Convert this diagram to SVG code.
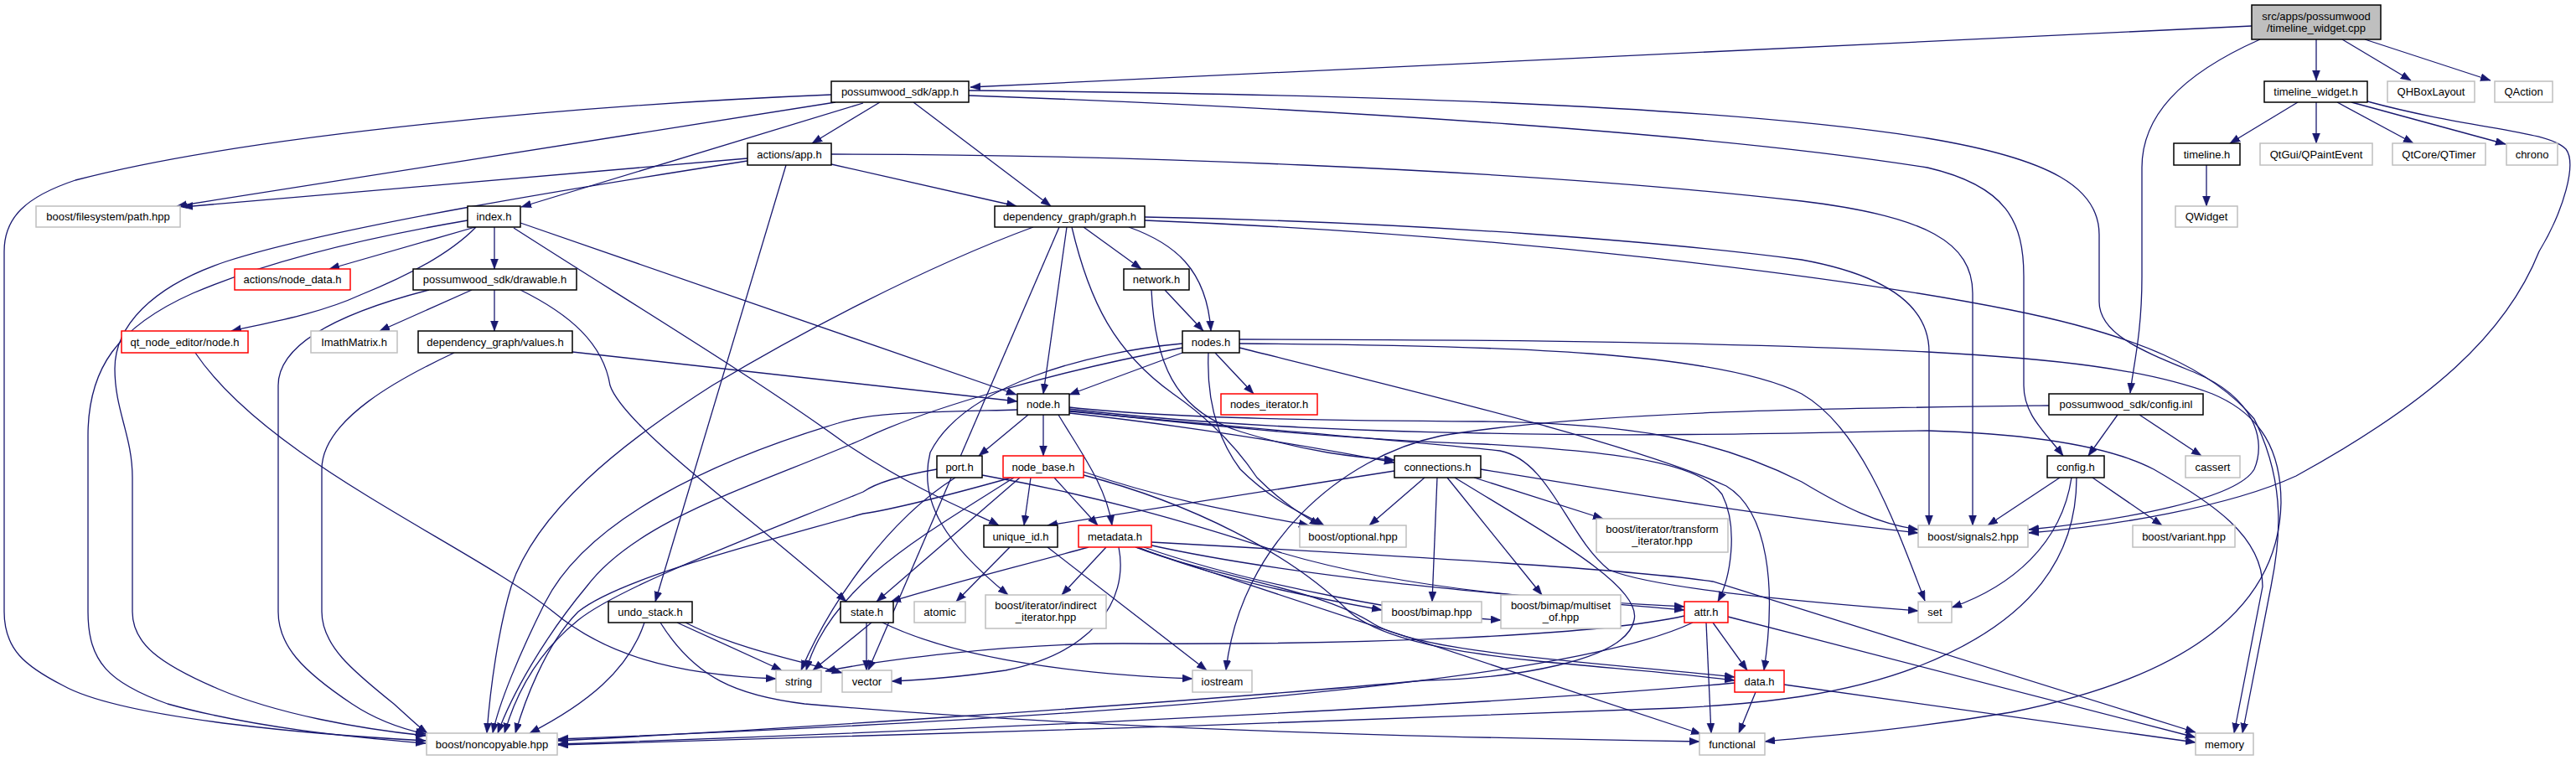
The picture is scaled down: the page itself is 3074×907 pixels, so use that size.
<svg xmlns="http://www.w3.org/2000/svg" width="3074" height="907" viewBox="0 0 3074 907">
<style>
text{font-family:"Liberation Sans",Arial,Helvetica,sans-serif;font-size:13px;text-anchor:middle;fill:#000}
.doc rect{fill:#fff;stroke:#000;stroke-width:1.5}
.ext rect{fill:#fff;stroke:#bfbfbf;stroke-width:1.5}
.red rect{fill:#fff;stroke:#ff0000;stroke-width:1.5}
.main rect{fill:#bfbfbf;stroke:#000;stroke-width:1.5}
#edges path{fill:none;stroke:#191970;stroke-width:1.3;marker-end:url(#arr)}
</style>
<defs>
<marker id="arr" markerUnits="userSpaceOnUse" markerWidth="13" markerHeight="10" refX="12" refY="4.5" orient="auto">
<path d="M0,0 L12,4.5 L0,9 z" fill="#191970" stroke="#191970" stroke-width="0.5"/>
</marker>
</defs>
<rect width="3074" height="907" fill="#fff"/>
<g id="edges">
<path d="M2687,31 L1158,104"/>
<path d="M2697,47 C2600,90 2556,140 2556,200 L2556,330 C2556,400 2545,440 2542,469"/>
<path d="M2764,47 L2764,96"/>
<path d="M2795,47 L2877,96"/>
<path d="M2822,47 L2972,96"/>
<path d="M2742,122 L2661,171"/>
<path d="M2764,122 L2764,171"/>
<path d="M2789,122 L2880,171"/>
<path d="M2806,122 L2990,172"/>
<path d="M2825,121 C2950,155 3040,155 3062,178 C3075,195 3060,250 3030,300 C2990,400 2900,480 2740,568 C2660,605 2520,628 2421,636"/>
<path d="M2633,197 L2633,246"/>
<path d="M992,113 C700,125 300,160 90,215 C30,235 5,260 5,300 L5,730 C5,775 30,795 75,818 C150,860 400,878 508,884"/>
<path d="M997,122 L211,246"/>
<path d="M1030,123 L622,247"/>
<path d="M1050,122 L969,171"/>
<path d="M1090,122 L1254,246"/>
<path d="M1156,108 C1600,112 2050,125 2300,165 C2450,190 2505,225 2505,280 L2505,360 C2505,400 2560,420 2620,445 C2690,475 2705,525 2690,560 C2670,595 2540,620 2421,632"/>
<path d="M1156,114 C1600,130 2050,160 2300,200 C2395,222 2415,265 2415,330 L2415,460 C2415,495 2440,515 2462,544"/>
<path d="M892,189 L218,247"/>
<path d="M892,192 C700,222 400,270 270,312 C180,342 137,390 137,440 C137,490 158,520 158,570 L158,730 C158,768 190,792 260,822 C330,852 430,870 508,878"/>
<path d="M992,196 L1213,246"/>
<path d="M938,197 L782,718"/>
<path d="M992,184 C1300,184 1800,200 2150,240 C2300,258 2354,290 2354,350 L2354,627"/>
<path d="M558,263 C400,290 300,320 230,350 C140,390 105,440 105,520 L105,730 C105,790 130,815 200,840 C300,868 420,880 508,887"/>
<path d="M567,271 L393,321"/>
<path d="M590,271 L590,321"/>
<path d="M568,271 C530,310 460,340 430,352 C380,375 320,385 276,395"/>
<path d="M621,266 L1213,471"/>
<path d="M613,272 C750,360 900,450 1010,530 C1100,590 1170,615 1192,627"/>
<path d="M512,346 C380,380 332,420 332,460 L332,730 C332,770 360,800 420,840 C450,860 480,870 508,876"/>
<path d="M563,346 L453,395"/>
<path d="M590,346 L590,395"/>
<path d="M621,346 C680,375 720,410 728,460 C745,510 900,620 1010,718"/>
<path d="M542,421 C480,450 384,500 384,560 L384,730 C384,770 420,800 470,840 C490,858 500,868 510,875"/>
<path d="M683,420 L1214,479"/>
<path d="M233,421 C320,550 560,650 660,730 C720,780 800,805 926,810"/>
<path d="M1233,271 C1100,320 950,400 850,460 C740,530 640,610 610,700 C595,750 585,820 581,875"/>
<path d="M1273,271 L1245,470"/>
<path d="M1264,271 L1036,800"/>
<path d="M1293,271 L1362,321"/>
<path d="M1347,271 C1400,290 1440,320 1445,395"/>
<path d="M1279,271 C1300,360 1330,420 1400,470 C1450,505 1480,540 1500,570 C1530,600 1555,615 1575,627"/>
<path d="M1366,259 C1700,265 2000,290 2150,310 C2260,330 2302,370 2302,420 L2302,627"/>
<path d="M1366,263 C1800,280 2200,330 2400,370 C2550,400 2640,440 2690,500 C2730,580 2720,650 2710,700 L2676,875"/>
<path d="M1390,346 L1436,395"/>
<path d="M1374,346 C1378,430 1400,490 1480,515 C1560,540 1620,546 1664,549"/>
<path d="M1411,421 L1276,471"/>
<path d="M1450,421 L1496,470"/>
<path d="M1411,415 C1250,445 1100,490 1030,524 C900,580 760,620 700,700 C650,760 610,830 594,875"/>
<path d="M1411,410 C1300,420 1150,460 1110,540 C1095,600 1130,650 1203,710"/>
<path d="M1442,421 C1440,470 1450,520 1480,560 C1520,600 1560,615 1580,627"/>
<path d="M1479,410 C1800,412 2050,420 2150,470 C2220,510 2260,620 2297,717"/>
<path d="M1479,405 C1800,405 2100,410 2300,420 C2450,428 2560,440 2640,470 C2700,495 2722,540 2722,600 C2720,700 2650,800 2400,850 C2250,875 2150,880 2106,885"/>
<path d="M1479,415 C1700,470 1950,530 2060,580 C2110,610 2120,700 2105,800"/>
<path d="M1227,495 L1168,544"/>
<path d="M1245,495 L1245,544"/>
<path d="M1263,495 C1290,540 1320,580 1327,627"/>
<path d="M1214,489 C1100,492 1040,492 1000,505 C850,550 700,620 650,720 C620,780 595,840 588,875"/>
<path d="M1276,486 C1400,500 1600,502 1770,503 C1950,505 2050,525 2150,575 C2200,605 2240,625 2289,632"/>
<path d="M1276,488 C1420,505 1600,514 1770,517 C2000,522 2200,515 2300,514 C2430,518 2520,534 2570,560 C2640,600 2700,640 2700,700 L2666,875"/>
<path d="M1276,490 C1440,508 1600,524 1770,530 C1950,540 2030,555 2055,590 C2075,630 2065,690 2050,718"/>
<path d="M1276,491 C1500,512 1700,528 1790,538 C1850,550 1870,640 1920,680 C1980,705 2200,722 2289,729"/>
<path d="M1276,493 C1400,506 1550,530 1664,552"/>
<path d="M1118,560 C1060,570 1040,580 1030,587 C900,640 740,700 690,740 C640,780 615,830 602,875"/>
<path d="M1140,570 C1060,620 990,720 956,800"/>
<path d="M1172,567 C1300,590 1410,620 1530,660 C1700,710 1900,718 2010,724"/>
<path d="M1230,570 L1222,627"/>
<path d="M1258,570 L1310,627"/>
<path d="M1217,570 L1046,718"/>
<path d="M1293,563 C1400,600 1500,615 1562,627"/>
<path d="M1210,570 C1100,640 990,700 962,800"/>
<path d="M1207,570 C1100,600 1050,610 1030,613 C900,650 740,690 690,730 C650,770 625,840 615,875"/>
<path d="M1293,567 C1420,600 1540,660 1610,730 C1680,790 1900,790 2070,812"/>
<path d="M1664,562 L1250,627"/>
<path d="M1700,570 L1634,627"/>
<path d="M1759,570 L1913,619"/>
<path d="M1715,570 L1709,718"/>
<path d="M1727,570 L1840,710"/>
<path d="M1767,560 C1950,590 2100,615 2289,636"/>
<path d="M1736,570 C1850,640 1960,700 1950,740 C1940,790 1800,810 1700,812 C1400,840 900,872 666,884"/>
<path d="M1299,653 C1200,680 1120,700 1063,718"/>
<path d="M1320,653 L1267,710"/>
<path d="M1335,653 C1348,720 1300,780 1200,800 C1130,810 1090,812 1064,813"/>
<path d="M1358,653 C1450,690 1550,710 1649,728"/>
<path d="M1365,653 C1500,700 1700,735 1791,740"/>
<path d="M1370,650 C1550,690 1800,710 2010,728"/>
<path d="M1355,653 C1450,690 1570,700 1640,745 C1700,780 1900,790 2070,808"/>
<path d="M1355,653 L2030,876"/>
<path d="M1374,647 C1700,665 1950,680 2044,694 L2620,874"/>
<path d="M1205,653 L1141,718"/>
<path d="M1250,653 L1440,800"/>
<path d="M1040,743 L970,800"/>
<path d="M1034,743 L1034,800"/>
<path d="M1053,743 C1150,790 1300,805 1423,810"/>
<path d="M769,743 C750,800 700,840 632,875"/>
<path d="M808,743 L933,800"/>
<path d="M818,743 C880,775 960,790 1005,803"/>
<path d="M788,743 C830,810 880,830 960,840 C1300,870 1700,880 2028,885"/>
<path d="M2010,735 C1900,760 1600,770 1340,768 C1200,768 1050,788 985,801"/>
<path d="M2044,743 L2085,800"/>
<path d="M2036,743 L2042,875"/>
<path d="M2062,736 L2620,880"/>
<path d="M2020,743 C1900,800 1500,850 666,882"/>
<path d="M2095,826 L2075,875"/>
<path d="M2129,817 L2620,886"/>
<path d="M2070,815 C1800,840 1200,870 666,888"/>
<path d="M2527,495 L2492,544"/>
<path d="M2553,495 L2627,544"/>
<path d="M2445,484 C2200,487 1900,490 1720,520 C1600,545 1480,650 1463,800"/>
<path d="M2458,570 L2372,627"/>
<path d="M2472,570 C2460,650 2400,700 2329,725"/>
<path d="M2478,570 C2478,660 2430,740 2290,795 C2200,830 2100,840 2000,845 C1600,862 1000,880 666,889"/>
<path d="M2497,570 L2580,627"/>
</g>
<g id="n-main" class="main"><rect x="2687" y="6" width="154" height="41"/><text x="2764" y="24">src/apps/possumwood</text><text x="2764" y="38">/timeline_widget.cpp</text></g>
<g id="n-app" class="doc"><rect x="992" y="97" width="164" height="25"/><text x="1074" y="114">possumwood_sdk/app.h</text></g>
<g id="n-tw" class="doc"><rect x="2702" y="97" width="123" height="25"/><text x="2763.5" y="114">timeline_widget.h</text></g>
<g id="n-qhbox" class="ext"><rect x="2849" y="97" width="104" height="25"/><text x="2901" y="114">QHBoxLayout</text></g>
<g id="n-qaction" class="ext"><rect x="2977" y="97" width="69" height="25"/><text x="3011.5" y="114">QAction</text></g>
<g id="n-aapp" class="doc"><rect x="892" y="171" width="100" height="26"/><text x="942" y="188.5">actions/app.h</text></g>
<g id="n-tl" class="doc"><rect x="2594" y="171" width="79" height="26"/><text x="2633.5" y="188.5">timeline.h</text></g>
<g id="n-qpe" class="ext"><rect x="2697" y="171" width="134" height="26"/><text x="2764" y="188.5">QtGui/QPaintEvent</text></g>
<g id="n-qtimer" class="ext"><rect x="2855" y="171" width="111" height="26"/><text x="2910.5" y="188.5">QtCore/QTimer</text></g>
<g id="n-chrono" class="ext"><rect x="2991" y="171" width="61" height="26"/><text x="3021.5" y="188.5">chrono</text></g>
<g id="n-path" class="ext"><rect x="43" y="246" width="172" height="25"/><text x="129" y="263">boost/filesystem/path.hpp</text></g>
<g id="n-index" class="doc"><rect x="558" y="246" width="63" height="25"/><text x="589.5" y="263">index.h</text></g>
<g id="n-graph" class="doc"><rect x="1187" y="246" width="179" height="25"/><text x="1276.5" y="263">dependency_graph/graph.h</text></g>
<g id="n-qwidget" class="ext"><rect x="2596" y="246" width="74" height="25"/><text x="2633" y="263">QWidget</text></g>
<g id="n-nodedata" class="red"><rect x="280" y="321" width="138" height="25"/><text x="349" y="338">actions/node_data.h</text></g>
<g id="n-drawable" class="doc"><rect x="493" y="321" width="195" height="25"/><text x="590.5" y="338">possumwood_sdk/drawable.h</text></g>
<g id="n-network" class="doc"><rect x="1341" y="321" width="78" height="25"/><text x="1380" y="338">network.h</text></g>
<g id="n-qtnode" class="red"><rect x="145" y="395" width="151" height="26"/><text x="220.5" y="412.5">qt_node_editor/node.h</text></g>
<g id="n-imath" class="ext"><rect x="371" y="395" width="103" height="26"/><text x="422.5" y="412.5">ImathMatrix.h</text></g>
<g id="n-values" class="doc"><rect x="499" y="395" width="184" height="26"/><text x="591" y="412.5">dependency_graph/values.h</text></g>
<g id="n-nodes" class="doc"><rect x="1411" y="395" width="68" height="26"/><text x="1445" y="412.5">nodes.h</text></g>
<g id="n-node" class="doc"><rect x="1214" y="470" width="62" height="25"/><text x="1245" y="487">node.h</text></g>
<g id="n-nodesit" class="red"><rect x="1457" y="470" width="115" height="25"/><text x="1514.5" y="487">nodes_iterator.h</text></g>
<g id="n-cinl" class="doc"><rect x="2445" y="470" width="184" height="25"/><text x="2537" y="487">possumwood_sdk/config.inl</text></g>
<g id="n-port" class="doc"><rect x="1118" y="544" width="54" height="26"/><text x="1145" y="561.5">port.h</text></g>
<g id="n-nodebase" class="red"><rect x="1197" y="544" width="96" height="26"/><text x="1245" y="561.5">node_base.h</text></g>
<g id="n-conn" class="doc"><rect x="1664" y="544" width="103" height="26"/><text x="1715.5" y="561.5">connections.h</text></g>
<g id="n-config" class="doc"><rect x="2443" y="544" width="68" height="26"/><text x="2477" y="561.5">config.h</text></g>
<g id="n-cassert" class="ext"><rect x="2608" y="544" width="65" height="26"/><text x="2640.5" y="561.5">cassert</text></g>
<g id="n-uid" class="doc"><rect x="1174" y="627" width="88" height="26"/><text x="1218" y="644.5">unique_id.h</text></g>
<g id="n-metadata" class="red"><rect x="1287" y="627" width="87" height="26"/><text x="1330.5" y="644.5">metadata.h</text></g>
<g id="n-optional" class="ext"><rect x="1551" y="627" width="127" height="26"/><text x="1614.5" y="644.5">boost/optional.hpp</text></g>
<g id="n-transform" class="ext"><rect x="1905" y="619" width="157" height="40"/><text x="1983.5" y="636">boost/iterator/transform</text><text x="1983.5" y="650">_iterator.hpp</text></g>
<g id="n-signals2" class="ext"><rect x="2289" y="627" width="131" height="26"/><text x="2354.5" y="644.5">boost/signals2.hpp</text></g>
<g id="n-variant" class="ext"><rect x="2545" y="627" width="122" height="26"/><text x="2606" y="644.5">boost/variant.hpp</text></g>
<g id="n-undo" class="doc"><rect x="726" y="718" width="100" height="25"/><text x="776" y="735">undo_stack.h</text></g>
<g id="n-state" class="doc"><rect x="1003" y="718" width="63" height="25"/><text x="1034.5" y="735">state.h</text></g>
<g id="n-atomic" class="ext"><rect x="1091" y="718" width="61" height="25"/><text x="1121.5" y="735">atomic</text></g>
<g id="n-indirect" class="ext"><rect x="1176" y="710" width="144" height="40"/><text x="1248" y="727">boost/iterator/indirect</text><text x="1248" y="741">_iterator.hpp</text></g>
<g id="n-bimap" class="ext"><rect x="1649" y="718" width="119" height="25"/><text x="1708.5" y="735">boost/bimap.hpp</text></g>
<g id="n-multiset" class="ext"><rect x="1791" y="710" width="143" height="40"/><text x="1862.5" y="727">boost/bimap/multiset</text><text x="1862.5" y="741">_of.hpp</text></g>
<g id="n-attr" class="red"><rect x="2010" y="718" width="52" height="25"/><text x="2036" y="735">attr.h</text></g>
<g id="n-set" class="ext"><rect x="2289" y="718" width="40" height="25"/><text x="2309" y="735">set</text></g>
<g id="n-string" class="ext"><rect x="926" y="800" width="54" height="26"/><text x="953" y="817.5">string</text></g>
<g id="n-vector" class="ext"><rect x="1005" y="800" width="59" height="26"/><text x="1034.5" y="817.5">vector</text></g>
<g id="n-iostream" class="ext"><rect x="1423" y="800" width="71" height="26"/><text x="1458.5" y="817.5">iostream</text></g>
<g id="n-data" class="red"><rect x="2070" y="800" width="59" height="26"/><text x="2099.5" y="817.5">data.h</text></g>
<g id="n-noncopy" class="ext"><rect x="509" y="875" width="156" height="26"/><text x="587" y="892.5">boost/noncopyable.hpp</text></g>
<g id="n-functional" class="ext"><rect x="2028" y="875" width="78" height="26"/><text x="2067" y="892.5">functional</text></g>
<g id="n-memory" class="ext"><rect x="2620" y="875" width="69" height="26"/><text x="2654.5" y="892.5">memory</text></g>
</svg>
